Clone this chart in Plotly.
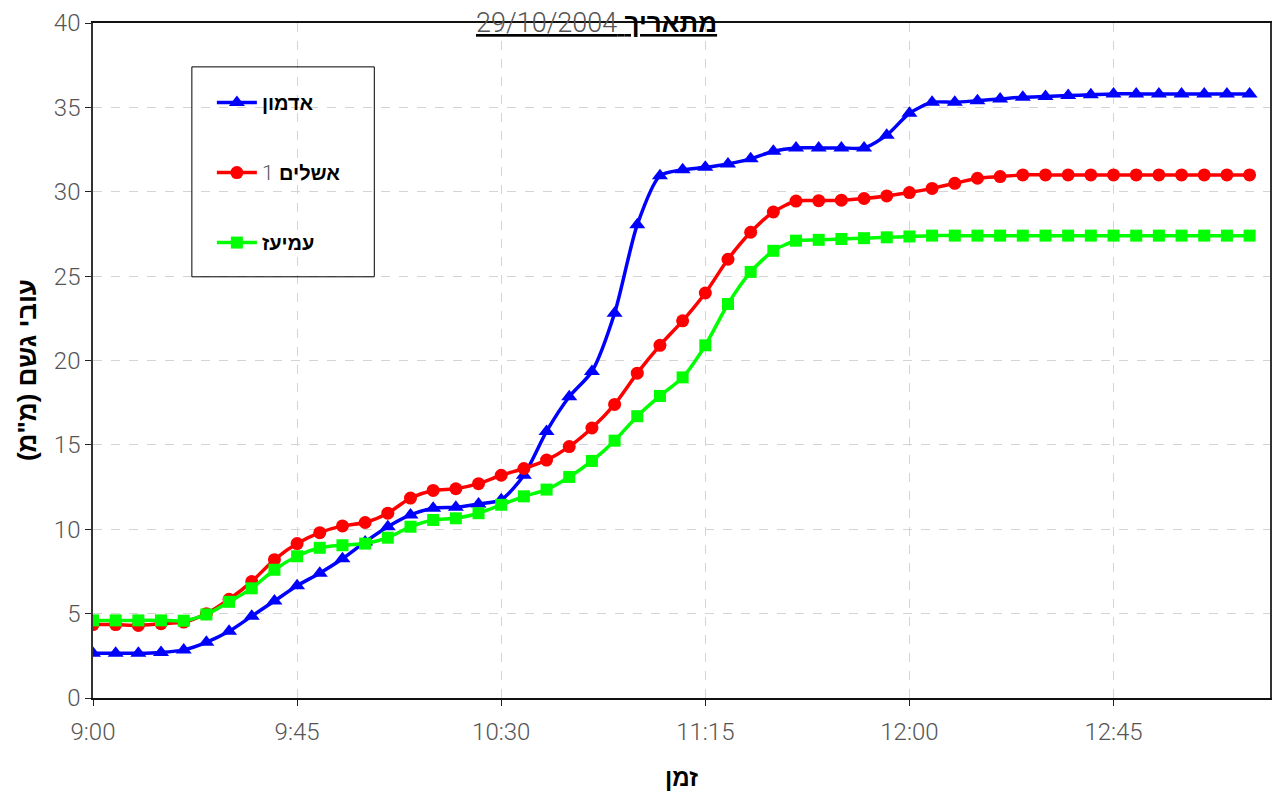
import pandas as pd
import plotly.graph_objects as go

# Readings every 5 minutes from 09:00 to 13:15
times = pd.date_range("2004-10-29 09:00", periods=52, freq="5min")

admon = [2.65, 2.65, 2.65, 2.7, 2.85, 3.3, 3.95, 4.85, 5.75, 6.65,
         7.4, 8.25, 9.25, 10.15, 10.85, 11.25, 11.3, 11.5, 11.75, 13.2,
         15.8, 17.85, 19.35, 22.8, 28.05, 30.95, 31.3, 31.45, 31.65, 31.95,
         32.4, 32.6, 32.6, 32.6, 32.6, 33.35, 34.65, 35.3, 35.3, 35.4,
         35.5, 35.6, 35.65, 35.7, 35.75, 35.8, 35.8, 35.8, 35.8, 35.8,
         35.8, 35.8]

ashalim1 = [4.35, 4.35, 4.3, 4.4, 4.5, 5.0, 5.85, 6.9, 8.2, 9.15,
            9.8, 10.2, 10.4, 10.95, 11.85, 12.3, 12.4, 12.7, 13.2, 13.6,
            14.1, 14.9, 16.0, 17.4, 19.25, 20.9, 22.35, 24.0, 26.0, 27.6,
            28.8, 29.45, 29.47, 29.5, 29.6, 29.75, 29.95, 30.2, 30.5, 30.8,
            30.9, 31.0, 31.0, 31.0, 31.0, 31.0, 31.0, 31.0, 31.0, 31.0,
            31.0, 31.0]

amiaz = [4.6, 4.6, 4.6, 4.6, 4.58, 4.95, 5.7, 6.5, 7.6, 8.4,
         8.9, 9.05, 9.15, 9.5, 10.15, 10.55, 10.65, 10.95, 11.45, 11.95,
         12.35, 13.1, 14.05, 15.25, 16.7, 17.9, 19.0, 20.9, 23.35, 25.25,
         26.5, 27.1, 27.15, 27.2, 27.25, 27.3, 27.35, 27.4, 27.4, 27.4,
         27.4, 27.4, 27.4, 27.4, 27.4, 27.4, 27.4, 27.4, 27.4, 27.4,
         27.4, 27.4]

x_tickvals = ["2004-10-29 09:00", "2004-10-29 09:45", "2004-10-29 10:30",
              "2004-10-29 11:15", "2004-10-29 12:00", "2004-10-29 12:45"]
x_ticktext = ["9:00", "9:45", "10:30", "11:15", "12:00", "12:45"]

THIN = "Roboto, Liberation Sans, sans-serif"
HEB = "Liberation Sans, DejaVu Sans, sans-serif"
thin_span = "font-family:Roboto, Liberation Sans, sans-serif;font-weight:300;color:#555"

series = [
    ("<b>אדמון</b>", admon, "#0000FF", "triangle-up", 14),
    (f"<span style='{thin_span};font-size:21px'>1</span> <b>אשלים</b>",
     ashalim1, "#FF0000", "circle", 13),
    ("<b>עמיעז</b>", amiaz, "#00FF00", "square", 12),
]

fig = go.Figure()
for i, (name, vals, color, symbol, msize) in enumerate(series):
    fig.add_trace(go.Scatter(
        x=times, y=vals, name=name, mode="lines+markers",
        legendgroup=f"g{i}",
        line=dict(color=color, width=3.5, shape="spline", smoothing=0.7),
        marker=dict(color=color, symbol=symbol, size=msize),
    ))

grid = dict(showgrid=True, gridcolor="#d4d4d4", griddash="dash", gridwidth=1)
tickfont = dict(family=THIN, size=24, color="#555", weight=300)

fig.update_layout(
    width=1279, height=794,
    margin=dict(l=93, r=7, t=23, b=96),
    paper_bgcolor="white", plot_bgcolor="white",
    showlegend=True,
    legend=dict(
        x=0.101, y=0.911, xanchor="left", yanchor="top",
        bgcolor="rgba(0,0,0,0)", borderwidth=0,
        font=dict(family=HEB, size=20, color="black"),
        tracegroupgap=41, itemwidth=40,
    ),
    xaxis=dict(
        type="date",
        range=["2004-10-29 09:00", "2004-10-29 13:19:30"],
        tickvals=x_tickvals, ticktext=x_ticktext,
        ticks="outside", ticklen=6, tickcolor="#222",
        tickfont=tickfont, ticklabelstandoff=5,
        showline=True, linecolor="#111", linewidth=1.5, mirror=True,
        zeroline=False, **grid,
    ),
    yaxis=dict(
        range=[0, 40], dtick=5,
        ticks="outside", ticklen=6, tickcolor="#222",
        tickfont=tickfont,
        showline=True, linecolor="#333", linewidth=1.5, mirror=True,
        zeroline=False, **grid,
    ),
    shapes=[dict(
        type="rect", xref="paper", yref="paper",
        x0=0.084, x1=0.239, y0=0.624, y1=0.935,
        line=dict(color="black", width=1), fillcolor="rgba(0,0,0,0)",
    )],
    annotations=[
        dict(
            text=f"<u><span style='{thin_span};font-size:27px'>29/10/2004</span> "
                 "<b>מתאריך</b></u>",
            xref="paper", yref="paper", x=0.4275, y=1.0, xanchor="center", yanchor="middle",
            showarrow=False, font=dict(family=HEB, size=26, color="black"),
        ),
        dict(
            text="<b>זמן</b>", xref="paper", yref="paper", x=0.5, y=-0.1185,
            xanchor="center", yanchor="middle", showarrow=False,
            font=dict(family=HEB, size=24, color="black"),
        ),
        dict(
            text="<b>עובי גשם (מ\"מ)\u200f</b>", xref="paper", yref="paper",
            x=-0.056, y=0.486, xanchor="center", yanchor="middle", textangle=-90,
            showarrow=False, font=dict(family=HEB, size=26, color="black"),
        ),
    ],
)

fig.write_html("out.html")
